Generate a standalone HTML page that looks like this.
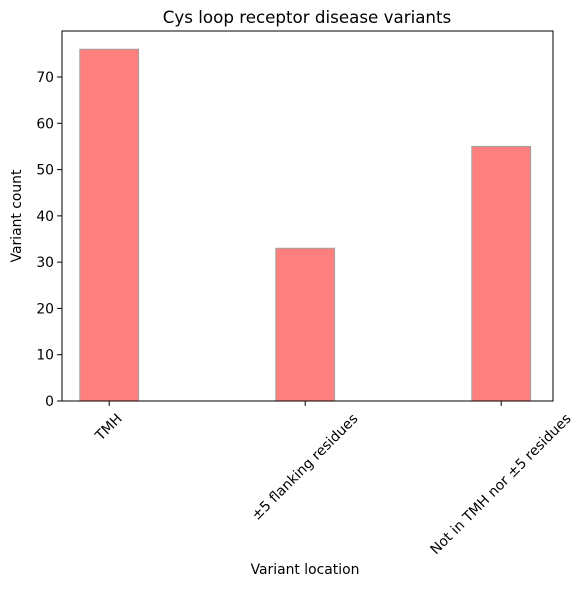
<!DOCTYPE html>
<html><head><meta charset="utf-8"><style>
body{margin:0;background:#fff}
svg text{font-family:"DejaVu Sans","Liberation Sans",sans-serif;fill:#000}
</style></head><body>
<svg id="chart" width="583" height="586" xmlns="http://www.w3.org/2000/svg">
<rect width="583" height="586" fill="#fff"/>
<text x="307" y="23" font-size="16.7" text-anchor="middle">Cys loop receptor disease variants</text>
<text x="305" y="574" font-size="13.9" text-anchor="middle">Variant location</text>
<text transform="translate(21,216) rotate(-90)" font-size="13.9" text-anchor="middle">Variant count</text>
<g id="marks"></g>
</svg>
<script>
const categories = ["TMH", "±5 flanking residues", "Not in TMH nor ±5 residues"];
const counts = [76, 33, 55];
const yTicks = [0, 10, 20, 30, 40, 50, 60, 70];

const L = 62, R = 553, T = 31, B = 401;
const barW = 0.3;
const xs = v => 109.2 + 196 * v;
const ys = v => B - v * (B - 77) / 70;
const NS = "http://www.w3.org/2000/svg";
const g = document.getElementById("marks");
function mk(tag, attrs) {
  const e = document.createElementNS(NS, tag);
  for (const k in attrs) e.setAttribute(k, attrs[k]);
  g.appendChild(e);
  return e;
}
counts.forEach((c, i) => {
  const r = mk("rect", {x: xs(i - barW / 2), y: ys(c), width: xs(i + barW / 2) - xs(i - barW / 2), height: ys(0) - ys(c), fill: "#ff7f7f", stroke: "#a0a0a0", "stroke-width": 1});
  
  
});
const frame = mk("rect", {x: L, y: T, width: R - L, height: B - T, fill: "none", stroke: "#000", "stroke-width": 1});


yTicks.forEach(v => {
  const t = mk("line", {x1: L - 4.9, x2: L, y1: ys(v), y2: ys(v), stroke: "#000", "stroke-width": 1});
  
  
  const tx = mk("text", {x: L - 8, y: ys(v) + 5, "font-size": 13.9, "text-anchor": "end"});
  tx.textContent = v;
  
  
});
categories.forEach((c, i) => {
  const x = xs(i);
  const t = mk("line", {x1: x, x2: x, y1: B, y2: B + 4.9, stroke: "#000", "stroke-width": 1});
  
  
  const tx = mk("text", {"font-size": 13.9, "text-anchor": "end"});
  tx.textContent = c;
  
  
  const len = tx.getComputedTextLength();
  const h = 10.5;
  const W = (len + h) * 0.7071;
  const ex = x + W / 2 - 1, ey = 412 + 0.7071 * h;
  tx.setAttribute("transform", `translate(${ex},${ey}) rotate(-45)`);
});
</script>
</body></html>
